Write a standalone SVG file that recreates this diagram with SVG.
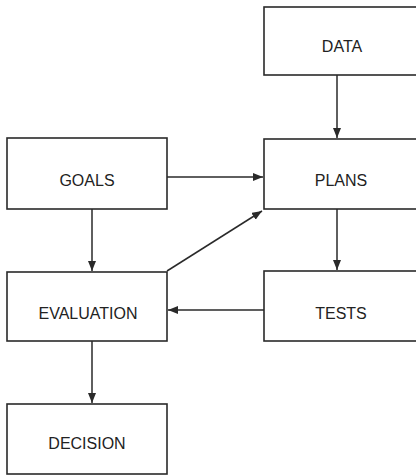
<svg xmlns="http://www.w3.org/2000/svg" width="416" height="475" viewBox="0 0 416 475">
<style>
.box{fill:#fff;stroke:#2a2a2a;stroke-width:1.6}
.lbl{font-family:"Liberation Sans",Arial,sans-serif;font-size:16px;fill:#222;text-anchor:middle}
.edge{fill:none;stroke:#2a2a2a;stroke-width:1.5;marker-end:url(#ah)}
</style>
<defs>
<marker id="ah" viewBox="0 0 10 8" refX="10" refY="4" markerWidth="10" markerHeight="8" markerUnits="userSpaceOnUse" orient="auto">
<path d="M0,0 L10,4 L0,8 Z" fill="#2a2a2a"/>
</marker>
</defs>
<rect width="416" height="475" fill="#fff"/>
<g id="connectors">
<line class="edge" x1="337" y1="75" x2="337" y2="138"/>
<line class="edge" x1="167" y1="177" x2="263" y2="177"/>
<line class="edge" x1="92" y1="209" x2="92" y2="271"/>
<line class="edge" x1="337" y1="209" x2="337" y2="270"/>
<line class="edge" x1="167" y1="271" x2="262" y2="211"/>
<line class="edge" x1="264" y1="310" x2="168" y2="310"/>
<line class="edge" x1="92" y1="341" x2="92" y2="403"/>
</g>
<g id="data"><rect class="box" x="264" y="7" width="160" height="68"/><text class="lbl" x="342" y="52">DATA</text></g>
<g id="goals"><rect class="box" x="7" y="138" width="160" height="71"/><text class="lbl" x="87" y="186">GOALS</text></g>
<g id="plans"><rect class="box" x="264" y="139" width="160" height="70"/><text class="lbl" x="341" y="186">PLANS</text></g>
<g id="evaluation"><rect class="box" x="7" y="272" width="160" height="69"/><text class="lbl" x="88" y="319">EVALUATION</text></g>
<g id="tests"><rect class="box" x="264" y="271" width="160" height="70"/><text class="lbl" x="341" y="319">TESTS</text></g>
<g id="decision"><rect class="box" x="7" y="404" width="160" height="70"/><text class="lbl" x="87" y="449">DECISION</text></g>
</svg>
